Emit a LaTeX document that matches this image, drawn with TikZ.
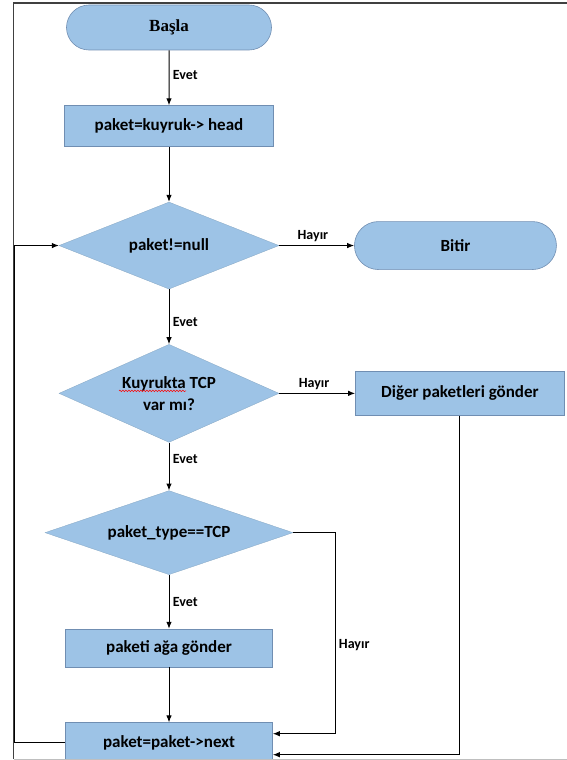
\documentclass[tikz,border=0pt]{standalone}
\usepackage{fontspec}
\setmainfont{Carlito}
\newfontfamily\titleserif{Liberation Serif}
\usepackage{xcolor}
\usepackage{tikz}
\usetikzlibrary{positioning,arrows.meta,shapes.geometric,shapes.misc,decorations.pathmorphing}
\definecolor{boxBlue}{RGB}{157,195,230}
\definecolor{edgeBlue}{RGB}{112,142,178}

\begin{document}
\begin{tikzpicture}[
  node distance=55pt,
  every node/.style={font=\fontsize{17pt}{22pt}\selectfont\bfseries},
  procBox/.style={rectangle, draw=edgeBlue, line width=0.6pt, fill=boxBlue, minimum width=207pt, minimum height=41pt, inner sep=0pt},
  decision/.style={diamond, aspect=2.5, draw=boxBlue!85!black, line width=0.3pt, fill=boxBlue, minimum width=220pt, minimum height=87pt, inner sep=0pt, align=center},
  terminal/.style={rounded rectangle, draw=edgeBlue, line width=0.6pt, fill=boxBlue, minimum width=205pt, minimum height=45pt, inner sep=0pt},
  flow/.style={-{Latex[length=7pt,width=5.5pt]}, line width=1pt},
  lbl/.style={font=\fontsize{14pt}{16pt}\selectfont\bfseries}
]
  \useasboundingbox (0,0) rectangle (567pt,-760pt);

  % Main column
  \node[terminal, font=\titleserif\fontsize{17pt}{20pt}\selectfont\bfseries] (basla) at (169pt,-27.5pt) {Başla};
  \node[procBox, minimum width=209pt, below=of basla] (kuyruk) {paket=kuyruk-> head};
  \node[decision, below=of kuyruk] (null) {paket!=null};
  \node[decision, aspect=2.24, minimum height=98pt, below=of null] (tcpvar) {Kuyrukta TCP\\var mı?};
  \node[decision, aspect=2.95, minimum width=248pt, minimum height=84pt, below=48pt of tcpvar] (tip) {paket\_type==TCP};
  \node[procBox, minimum height=38pt, below=54pt of tip] (gonder) {paketi ağa gönder};
  \node[procBox, minimum height=40pt, below=of gonder] (next) {paket=paket->next};

  % Right column
  \node[terminal, minimum width=202pt, minimum height=48pt, right=75pt of null] (bitir) {Bitir};
  \node[procBox, minimum width=209pt, minimum height=44pt, right=76pt of tcpvar] (diger) {Diğer paketleri gönder};

  % spell-check mark under Kuyrukta
  \draw[red, line width=0.5pt, decorate, decoration={snake, amplitude=0.8pt, segment length=3pt}]
    ([xshift=-50pt, yshift=2.5pt]tcpvar.center) -- ++(67pt,0);

  % Connectors
  \draw[flow] (basla) -- node[lbl, right, pos=0.45] {Evet} (kuyruk);
  \draw[flow] (kuyruk) -- (null);
  \draw[flow] (null) -- node[lbl, above, pos=0.45] {Hayır} (bitir);
  \draw[flow] (null) -- node[lbl, right, pos=0.6] {Evet} (tcpvar);
  \draw[flow] (tcpvar) -- node[lbl, above, pos=0.46] {Hayır} (diger);
  \draw[flow] (tcpvar) -- node[lbl, right, pos=0.35] {Evet} (tip);
  \draw[flow] (tip) -- node[lbl, right] {Evet} (gonder);
  \draw[flow] (gonder) -- (next);
  \draw[flow] (tip.east) -- ++(42pt,0) |- node[lbl, right, pos=0.28] {Hayır} ([yshift=9pt]next.east);
  \draw[flow] (diger.south) |- ([yshift=-12pt]next.east);
  \draw[flow] (next.west) -- ++(-51pt,0) |- (null.west);

  % Page frame
  \draw[line width=1.3pt, black!75] (567pt,-3pt) -- (13.5pt,-3pt) -- (13.5pt,-759pt);
  \draw[line width=1pt, black!25] (13.5pt,-759pt) -- (567pt,-759pt);
\end{tikzpicture}
\end{document}
